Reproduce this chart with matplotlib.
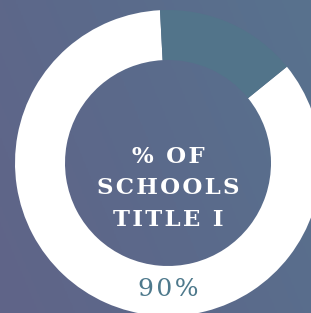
import numpy as np
import matplotlib
matplotlib.use("Agg")
import matplotlib.pyplot as plt
from matplotlib.colors import LinearSegmentedColormap

# --- data ---
shares = [85, 15]            # white ring part, remaining part (as drawn)
ring_colors = ["#ffffff", "#52748a"]
title_lines = ["% OF", "SCHOOLS", "TITLE I"]
value_label = "90%"

W, H = 311, 313
fig = plt.figure(figsize=(W / 100, H / 100), dpi=100)
ax = fig.add_axes([0, 0, 1, 1])

# background gradient (bottom-left purple-blue -> top-right teal-blue)
cmap = LinearSegmentedColormap.from_list("bg", ["#606488", "#5b6a8b", "#58728e"])
xx, yy = np.meshgrid(np.linspace(0, 1, 200), np.linspace(0, 1, 200))
grad = 0.7 * xx + 0.3 * yy
ax.imshow(grad, cmap=cmap, extent=(0, W, 0, H), origin="lower", aspect="auto", zorder=0)

cx, cy = 168, H - 163
ax.pie(shares, colors=ring_colors, radius=153, center=(cx, cy),
       startangle=39, counterclock=False,
       wedgeprops=dict(width=50, linewidth=0))

def spaced(s):
    return "\u200a".join(s)

for i, line in enumerate(title_lines):
    ax.text(cx, H - 157 - i * 31.5, spaced(line), ha="center", va="center",
            color="white", fontsize=16.5, fontweight="bold", family="DejaVu Serif", zorder=5)

ax.text(cx, H - 290, spaced(value_label), ha="center", va="center",
        color="#4e798c", fontsize=18, family="DejaVu Serif", zorder=5)

ax.set_xlim(0, W)
ax.set_ylim(0, H)
ax.set_aspect("auto")
ax.axis("off")

fig.savefig("out.png", dpi=100)
